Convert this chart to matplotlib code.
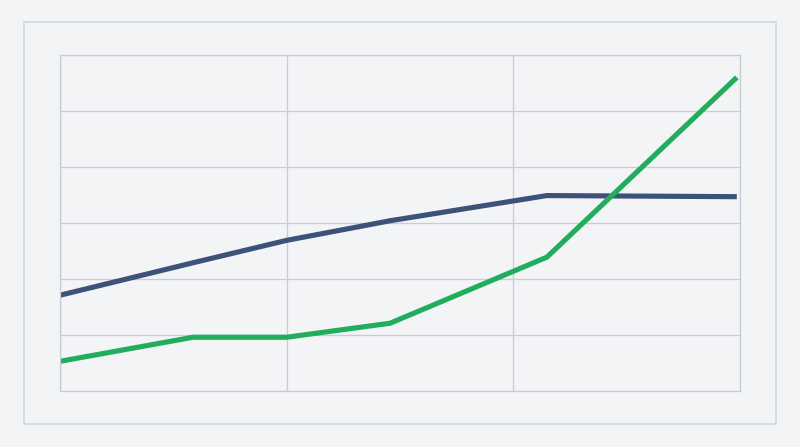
import matplotlib
matplotlib.use("Agg")
import matplotlib.pyplot as plt
from matplotlib.patches import Rectangle

# positions along x (grid at 0, 1, 2, 3) and values on a 0..6 scale
x = [0, 0.587, 1.0, 1.456, 2.148, 2.986]
blue = [1.71, 2.29, 2.69, 3.04, 3.49, 3.47]
green = [0.53, 0.96, 0.96, 1.21, 2.39, 5.60]

bg = "#f2f4f6"
grid = "#c9ccd0"

W, H = 800, 447
fig = plt.figure(figsize=(W / 100, H / 100), dpi=100, facecolor=bg)

# outer frame
fig.patches.append(Rectangle((24 / W, 1 - 424 / H), 752 / W, 402 / H,
                             transform=fig.transFigure, fill=False,
                             edgecolor="#d3d6da", linewidth=1.2))

ax = fig.add_axes([60 / W, 1 - 391 / H, 680 / W, 336 / H])
ax.set_facecolor(bg)
ax.plot(x, blue, color="#3d5278", linewidth=3.7, solid_capstyle="butt")
ax.plot(x, green, color="#21ad5c", linewidth=3.7, solid_capstyle="butt")

ax.set_xlim(0, 3)
ax.set_ylim(0, 6)
ax.set_xticks([0, 1, 2, 3])
ax.set_yticks(range(7))
ax.grid(True, color=grid, linewidth=0.9)
ax.set_axisbelow(True)
ax.tick_params(length=0, labelbottom=False, labelleft=False)
for s in ax.spines.values():
    s.set_color(grid)
    s.set_linewidth(0.9)

fig.savefig("out.png", dpi=100, facecolor=bg)
